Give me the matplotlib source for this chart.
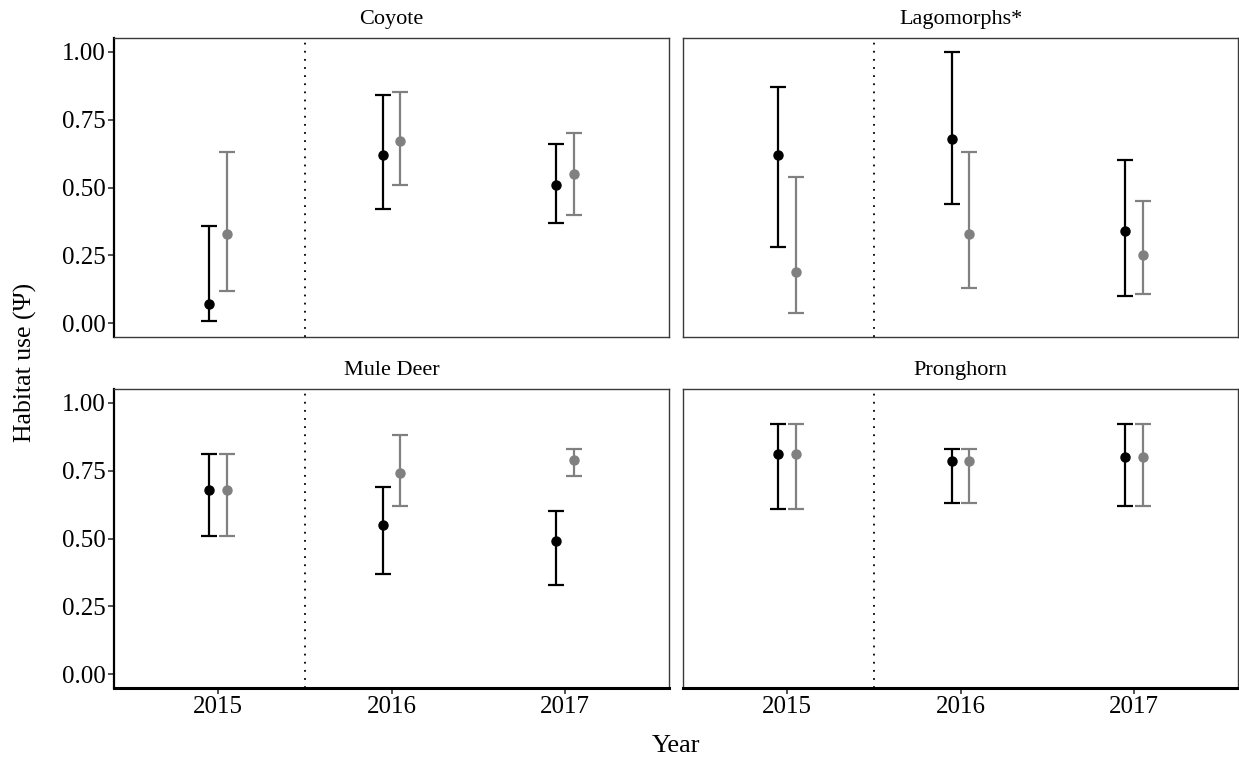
import matplotlib
matplotlib.use("Agg")
import matplotlib.pyplot as plt
import numpy as np

plt.rcParams['font.family'] = ['Liberation Serif', 'DejaVu Serif']

species = ["Coyote", "Lagomorphs*", "Mule Deer", "Pronghorn"]
years = ["2015", "2016", "2017"]

# black series
coyote_a_est = [0.07, 0.62, 0.51]
coyote_a_lo = [0.01, 0.42, 0.37]
coyote_a_hi = [0.36, 0.84, 0.66]
lago_a_est = [0.62, 0.68, 0.34]
lago_a_lo = [0.28, 0.44, 0.10]
lago_a_hi = [0.87, 1.00, 0.60]
mule_a_est = [0.68, 0.55, 0.49]
mule_a_lo = [0.51, 0.37, 0.33]
mule_a_hi = [0.81, 0.69, 0.60]
prong_a_est = [0.81, 0.785, 0.80]
prong_a_lo = [0.61, 0.63, 0.62]
prong_a_hi = [0.92, 0.83, 0.92]

# grey series
coyote_b_est = [0.33, 0.67, 0.55]
coyote_b_lo = [0.12, 0.51, 0.40]
coyote_b_hi = [0.63, 0.85, 0.70]
lago_b_est = [0.19, 0.33, 0.25]
lago_b_lo = [0.04, 0.13, 0.11]
lago_b_hi = [0.54, 0.63, 0.45]
mule_b_est = [0.68, 0.74, 0.79]
mule_b_lo = [0.51, 0.62, 0.73]
mule_b_hi = [0.81, 0.88, 0.83]
prong_b_est = [0.81, 0.785, 0.80]
prong_b_lo = [0.61, 0.63, 0.62]
prong_b_hi = [0.92, 0.83, 0.92]

series_a = [(coyote_a_est, coyote_a_lo, coyote_a_hi), (lago_a_est, lago_a_lo, lago_a_hi),
            (mule_a_est, mule_a_lo, mule_a_hi), (prong_a_est, prong_a_lo, prong_a_hi)]
series_b = [(coyote_b_est, coyote_b_lo, coyote_b_hi), (lago_b_est, lago_b_lo, lago_b_hi),
            (mule_b_est, mule_b_lo, mule_b_hi), (prong_b_est, prong_b_lo, prong_b_hi)]

yticks = [0.00, 0.25, 0.50, 0.75, 1.00]
ytick_labels = ["0.00", "0.25", "0.50", "0.75", "1.00"]

W, H = 1239, 759
fig = plt.figure(figsize=(W / 100, H / 100), dpi=100)

cols = [(114, 669), (683, 1238)]
rows = [(38, 337), (389, 688)]

def px_axes(x0, x1, y0, y1):
    return fig.add_axes([x0 / W, 1 - y1 / H, (x1 - x0) / W, (y1 - y0) / H])

fs_tick = 18
dodge = 0.05
x = np.arange(1, len(years) + 1)

for i, name in enumerate(species):
    r, c = divmod(i, 2)
    ax = px_axes(cols[c][0], cols[c][1], rows[r][0], rows[r][1])
    ax.set_xlim(0.4, 3.6)
    ax.set_ylim(-0.05, 1.05)
    ax.axvline(1.5, color='black', linestyle=(0, (1, 3.5)), linewidth=1.3, zorder=1)
    for (est, lo, hi), col, off in ((series_a[i], 'black', -dodge), (series_b[i], '#808080', dodge)):
        est = np.array(est); lo = np.array(lo); hi = np.array(hi)
        ax.errorbar(x + off, est, yerr=[est - lo, hi - est], fmt='o', color=col,
                    ecolor=col, elinewidth=1.6, capsize=5.5, capthick=1.6,
                    markersize=6.5, zorder=3)
    ax.annotate(name, xy=(0.5, 1), xycoords='axes fraction', xytext=(0, 13),
                textcoords='offset points', ha='center', va='center', fontsize=16)
    for s in ax.spines.values():
        s.set_color('#3a3a3a')
        s.set_linewidth(1.0)
    ax.set_xticks(x)
    ax.set_yticks(yticks)
    if r == 1:
        ax.set_xticklabels(years, fontsize=fs_tick)
        ax.spines['bottom'].set_color('black')
        ax.spines['bottom'].set_linewidth(2.2)
        ax.tick_params(axis='x', length=4, width=1.2, color='#333333', pad=2)
    else:
        ax.tick_params(axis='x', length=0, labelbottom=False)
    if c == 0:
        ax.set_yticklabels(ytick_labels, fontsize=fs_tick)
        ax.spines['left'].set_color('black')
        ax.spines['left'].set_linewidth(1.6)
        ax.tick_params(axis='y', length=4, width=1.2, color='#333333', pad=2)
    else:
        ax.tick_params(axis='y', length=0, labelleft=False)

fig.text(25 / W, 1 - 362 / H, "Habitat use (Ψ)", rotation=90, ha='center', va='center', fontsize=18.5)
fig.text(676 / W, 1 - 746 / H, "Year", ha='center', va='center', fontsize=19)

fig.savefig("out.png", dpi=100, facecolor='white')
